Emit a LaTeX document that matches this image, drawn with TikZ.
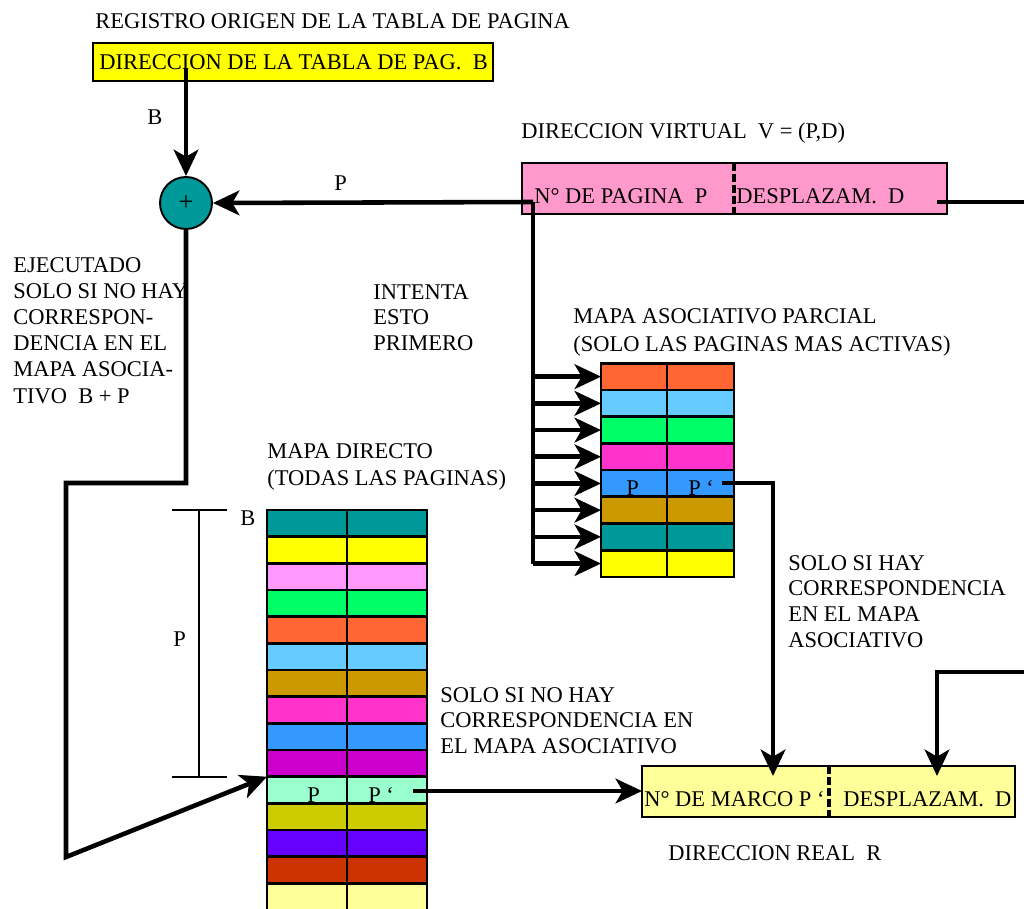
\documentclass[tikz,border=0pt]{standalone}
\usepackage{fontspec}
\setmainfont{Liberation Serif}
\usepackage{tikz}
\usetikzlibrary{arrows.meta,positioning}
\definecolor{regyellow}{HTML}{FFFF00}
\definecolor{virtpink}{HTML}{FF99CC}
\definecolor{realyellow}{HTML}{FFFF99}
\definecolor{mapteal}{HTML}{009999}
\definecolor{maporange}{HTML}{FF6633}
\definecolor{mapsky}{HTML}{66CCFF}
\definecolor{mapgreen}{HTML}{00FF66}
\definecolor{mapmagenta}{HTML}{FF33CC}
\definecolor{mapblue}{HTML}{3399FF}
\definecolor{mapgold}{HTML}{CC9900}
\definecolor{mapyellow}{HTML}{FFFF00}
\definecolor{mappink}{HTML}{FF99FF}
\definecolor{mappurple}{HTML}{CC00CC}
\definecolor{mapmint}{HTML}{99FFCC}
\definecolor{mapolive}{HTML}{CCCC00}
\definecolor{mapviolet}{HTML}{6600FF}
\definecolor{maprust}{HTML}{CC3300}
\definecolor{maplight}{HTML}{FFFF99}

\begin{document}
\begin{tikzpicture}[x=0.02cm, y=-0.02cm,
    font=\fontsize{12.8}{15}\selectfont,
    txt/.style={anchor=base west, inner sep=0pt},
    addr/.style={draw, line width=1.1pt, anchor=north west, inner sep=0pt,
                 outer sep=0pt, minimum height=1.02cm},
    cell/.style={draw, line width=1.5pt, anchor=north west, inner sep=0pt,
                 outer sep=0pt, minimum height=0.534cm},
    arr/.style={-{Stealth[length=15pt, width=14pt, inset=4pt]}, line width=2.6pt},
    wire/.style={line width=2.6pt},
    sep/.style={line width=1.8pt, dash pattern=on 4.5pt off 1.7pt},
    bracket/.style={line width=0.7pt}
  ]
  \useasboundingbox (0,0) rectangle (1024,909);
  \clip (0,0) rectangle (1024,909);

  % page table origin register
  \node[txt] (regttl) at (95,29) {REGISTRO ORIGEN DE LA TABLA DE PAGINA};
  \node[addr, fill=regyellow, minimum width=8cm, minimum height=0.76cm] (ptreg) at (93,43) {};
  \node[txt] (ptregtxt) at (99,70) {DIRECCION DE LA TABLA DE PAG.~~B};
  \node[circle, draw, line width=1.1pt, fill=mapteal, minimum size=1.04cm, inner sep=0pt,
        font=\fontsize{15}{16}\selectfont] (sum) at (186,203) {+};
  \node[txt] (blbl) at (147,125) {B};
  \node[txt] (plbl) at (334,190) {P};

  % virtual address
  \node[txt] (vttl) at (521,138) {DIRECCION VIRTUAL~~V = (P,D)};
  \node[addr, fill=virtpink, minimum width=8.5cm] (vaddr) at (522,163) {};
  \draw[sep] (734,163) -- (734,214);
  \node[txt] (vpage) at (534,203) {N° DE PAGINA~~P};
  \node[txt] (vdisp) at (736,203) {DESPLAZAM.~~D};

  % side notes
  \foreach \t [count=\k] in {EJECUTADO, SOLO SI NO HAY, CORRESPON-, DENCIA EN EL, MAPA ASOCIA-, TIVO~~B + P}
    \node[txt] (ejec\k) at (13,{272+26.2*(\k-1)}) {\t};
  \foreach \t [count=\k] in {INTENTA, ESTO, PRIMERO}
    \node[txt] (prim\k) at (373,{299+25.7*(\k-1)}) {\t};
  \node[txt] (amttl1) at (573,323) {MAPA ASOCIATIVO PARCIAL};
  \node[txt] (amttl2) at (573,351) {(SOLO LAS PAGINAS MAS ACTIVAS)};
  \node[txt] (dmttl1) at (267,458) {MAPA DIRECTO};
  \node[txt] (dmttl2) at (267,485) {(TODAS LAS PAGINAS)};
  \foreach \t [count=\k] in {SOLO SI HAY, CORRESPONDENCIA, EN EL MAPA, ASOCIATIVO}
    \node[txt] (hay\k) at (788,{570+25.8*(\k-1)}) {\t};
  \foreach \t [count=\k] in {SOLO SI NO HAY, CORRESPONDENCIA EN, EL MAPA ASOCIATIVO}
    \node[txt] (nohay\k) at (440,{702+25.5*(\k-1)}) {\t};

  % associative map
  \foreach \c [count=\i] in {maporange,mapsky,mapgreen,mapmagenta,mapblue,mapgold,mapteal,mapyellow}{
    \node[cell, fill=\c, minimum width=1.32cm] (aml\i) at (601,{363.3+26.7*(\i-1)}) {};
    \node[cell, fill=\c, minimum width=1.34cm] (amr\i) at (aml\i.north east) {};
  }
  \node[txt] (amp) at (626,495) {P};
  \node[txt] (ampp) at (688,495) {P ‘};

  % direct map
  \foreach \c [count=\i] in {mapteal,mapyellow,mappink,mapgreen,maporange,mapsky,mapgold,mapmagenta,
                             mapblue,mappurple,mapmint,mapolive,mapviolet,maprust,maplight}{
    \node[cell, fill=\c, minimum width=1.6cm] (dml\i) at (267,{510+26.67*(\i-1)}) {};
    \node[cell, fill=\c, minimum width=1.6cm] (dmr\i) at (dml\i.north east) {};
  }
  \node[txt] (dmp) at (307,802) {P};
  \node[txt] (dmpp) at (368,802) {P ‘};
  \draw[bracket] (199,510) -- (199,777);
  \draw[bracket] (172,510) -- (227,510);
  \draw[bracket] (172,777) -- (227,777);
  \node[txt] (dmb) at (240,525) {B};
  \node[txt] (dmoff) at (173,646) {P};

  % real address
  \node[addr, fill=realyellow, minimum width=7.46cm] (raddr) at (642,766) {};
  \draw[sep] (829,766) -- (829,817);
  \node[txt] (rframe) at (644,806) {N° DE MARCO P ‘};
  \node[txt] (rdisp) at (843,806) {DESPLAZAM.~~D};
  \node[txt] (rttl) at (668,860) {DIRECCION REAL~~R};

  % connectors
  \coordinate (ptout) at (186,68);
  \coordinate (vpout) at (533,202);
  \coordinate (vdout) at (937,202);
  \coordinate (ampout) at (722,483);
  \coordinate (dmpout) at (413,791);
  \coordinate (rfin) at (773,776);
  \coordinate (rdturn) at (937,672);
  \coordinate (rdin) at (937,776);
  \coordinate (dmturn) at (66,483);
  \coordinate (dmlow) at (66,857);

  \draw[arr] (ptout) -- (sum.north);
  \draw[arr] (vpout) -- (sum.east);
  \draw[wire] (vpout) -- (vpout |- aml8.west);
  \foreach \i in {1,...,8}
    \draw[arr] (vpout |- aml\i.west) -- (aml\i.west);
  \draw[arr] (sum.south) |- (dmturn) -- (dmlow) -- (dml11.north west);
  \draw[arr] (ampout) -| (rfin);
  \draw[arr] (dmpout) -- (dmpout -| raddr.west);
  \draw[arr] (vdout) -- ++(100,0) |- (rdturn) -- (rdin);
\end{tikzpicture}
\end{document}
